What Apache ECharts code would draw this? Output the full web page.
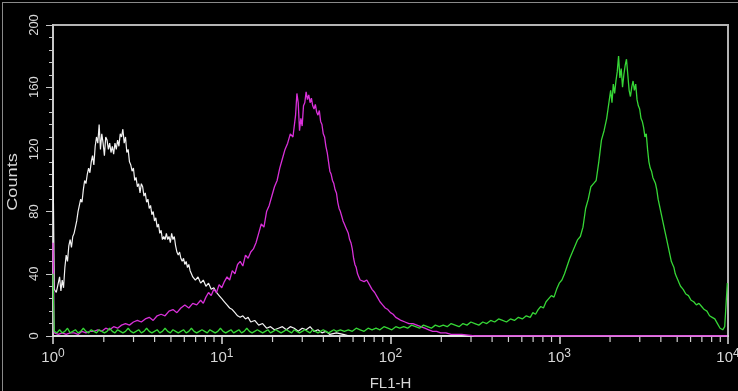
<!DOCTYPE html>
<html><head><meta charset="utf-8">
<script src="https://cdn.jsdelivr.net/npm/echarts@6/dist/echarts.min.js"></script>
<style>html,body{margin:0;padding:0;background:#000;}#c{width:738px;height:391px;}</style>
</head><body><div id="c"></div>
<script>
// Channels (0..1024 over 4 log decades) and counts
const whiteChannels = [0,2,5,8,10,12,14,16,18,20,22,24,26,28,30,32,34,36,38,40,42,44,46,48,50,52,54,56,58,60,62,64,66,68,70,72,74,76,78,80,82,84,86,88,90,92,94,96,98,100,102,104,106,108,110,112,114,116,118,120,122,124,126,128,130,132,134,136,138,140,142,144,146,148,150,152,154,156,158,160,162,164,166,168,170,172,174,176,178,180,182,184,186,188,190,192,194,196,198,200,202,204,206,208,210,212,214,216,220,224,228,232,236,240,244,248,252,256,260,264,268,272,276,280,284,288,292,296,300,306,312,318,324,330,336,342,348,354,360,366,372,378,384,390,396,402,408,414,420,430,440,450,470,1023];
const whiteCounts   = [113,30,28,34,38,29,36,31,44,52,48,58,62,57,64,66,70,74,80,84,88,86,94,100,98,104,108,105,112,116,110,122,128,124,136,120,130,124,116,128,126,120,124,118,122,117,124,120,126,122,130,128,133,124,128,118,120,112,110,106,108,100,102,96,98,92,98,96,90,92,86,88,82,84,78,80,74,76,70,72,66,68,62,64,62,66,62,64,60,66,62,64,58,54,52,54,50,48,50,46,48,44,46,42,40,38,38,36,38,34,36,32,34,30,31,28,26,24,22,20,18,17,15,13,12,13,11,12,9,10,7,8,5,6,4,5,6,4,6,5,3,5,4,6,3,4,2,3,1,2,1,0,0,0];

const magentaChannels = [0,2,8,14,20,26,32,38,44,50,56,62,68,74,80,86,92,98,104,110,116,122,128,134,140,146,152,158,164,170,176,182,188,194,200,206,212,218,224,228,232,236,240,244,248,252,256,260,264,268,272,276,280,284,288,292,296,300,304,308,312,316,320,324,328,332,336,340,344,348,352,356,360,364,368,370,372,374,376,378,380,382,384,386,388,390,392,394,396,398,400,402,404,406,408,410,412,414,416,418,420,422,424,426,428,430,432,434,436,438,440,442,444,446,448,450,452,454,456,458,460,462,464,466,468,472,476,480,484,488,492,496,500,504,508,512,516,520,524,528,534,540,546,552,558,564,570,576,582,588,596,604,620,640,1023];
const magentaCounts   = [60,2,1,2,1,2,2,1,3,2,3,3,4,3,5,4,6,5,7,8,7,9,10,9,11,12,10,13,14,13,16,17,15,18,20,18,21,20,23,21,25,28,26,30,28,33,31,35,38,36,42,40,46,48,45,52,50,54,56,60,66,72,70,80,84,90,96,100,108,114,120,124,130,128,142,156,150,132,140,135,148,150,157,152,155,150,153,148,146,149,144,142,145,138,136,130,128,122,118,112,106,104,100,98,94,92,86,82,80,77,74,72,70,68,66,62,60,56,50,46,44,40,38,36,37,35,36,33,30,28,25,22,20,18,17,15,14,12,11,10,9,8,8,7,6,5,4,3,3,2,2,1,1,0,0];

const greenChannels = [0,2,6,10,14,18,22,26,30,34,38,42,46,50,54,58,62,66,70,74,78,82,86,90,94,98,102,106,110,114,118,122,126,130,134,138,142,146,150,154,158,162,166,170,174,178,182,186,190,194,198,202,206,210,214,218,222,226,230,234,238,242,246,250,254,258,262,266,270,274,278,282,286,290,294,298,302,306,310,314,318,322,326,330,334,338,342,346,350,354,358,362,366,370,374,378,382,386,390,394,398,402,406,410,414,418,422,426,430,436,442,448,454,460,466,472,478,484,490,496,502,508,514,520,526,532,538,544,550,556,562,568,574,580,586,592,598,604,610,616,622,628,634,640,646,652,658,664,670,676,682,688,694,700,706,712,718,724,728,732,736,740,744,748,752,756,760,764,768,772,776,780,784,788,792,796,800,804,808,812,816,820,824,828,832,836,840,842,844,846,848,850,852,854,856,858,860,862,864,866,868,870,872,874,876,878,880,882,884,886,888,890,892,894,896,898,900,902,904,906,908,910,912,914,916,918,920,922,924,926,928,930,932,934,936,938,940,942,944,946,948,950,952,956,960,964,968,972,976,980,984,988,992,996,1000,1004,1008,1012,1016,1019,1021,1023];
const greenCounts   = [40,3,2,4,2,3,5,2,3,4,2,3,5,3,2,4,3,2,4,3,2,3,5,3,2,4,3,2,3,5,3,2,3,4,2,3,5,3,2,3,4,2,3,5,3,2,4,3,2,3,4,2,3,5,3,2,3,4,3,2,4,3,2,3,5,3,2,3,4,2,3,4,2,3,5,3,2,3,4,3,2,3,4,2,3,4,3,2,3,4,3,2,4,3,2,3,4,3,2,4,3,2,3,4,3,2,3,4,3,4,3,4,3,5,4,3,5,4,5,4,6,5,4,6,5,6,5,7,6,5,7,6,5,7,6,7,6,8,7,6,8,7,9,8,7,9,8,10,9,11,10,9,11,10,12,11,13,12,15,14,17,19,18,22,24,26,25,30,34,36,40,45,50,54,58,62,64,70,82,88,96,98,100,112,126,132,140,146,152,158,150,162,156,164,170,180,166,172,160,168,174,178,168,158,154,160,164,158,162,152,148,146,140,138,134,128,130,120,112,108,106,102,100,98,94,88,84,80,76,72,68,64,60,56,52,48,46,44,40,38,36,34,32,30,27,26,23,22,20,21,19,17,16,13,12,11,8,5,4,6,5,34];

const yTicks = [0, 40, 80, 120, 160, 200];
const xDecades = [0, 1, 2, 3, 4];
const xMinorTicks = [2,3,4,5,6,7,8,9,20,30,40,50,60,70,80,90,200,300,400,500,600,700,800,900,2000,3000,4000,5000,6000,7000,8000,9000];

function toPairs(ch, counts) { return ch.map((c, i) => [Math.pow(10, c / 256), counts[i]]); }

const FONT = 'Liberation Sans, Arial, sans-serif';
const chart = echarts.init(document.getElementById('c'), null, { renderer: 'canvas' });
chart.setOption({
  backgroundColor: '#000',
  animation: false,
  grid: { left: 53, right: 10, top: 25, bottom: 55, outerBoundsMode: 'none', containLabel: false, show: true, borderColor: '#b4b4b4', borderWidth: 2, backgroundColor: '#000' },
  graphic: [
    { type: 'line', shape: { x1: 2, y1: 2.5, x2: 738, y2: 2.5 }, style: { stroke: '#8a8a8a', lineWidth: 1 } },
    { type: 'line', shape: { x1: 2.5, y1: 2, x2: 2.5, y2: 391 }, style: { stroke: '#8a8a8a', lineWidth: 1 } },
    { type: 'text', x: 13, y: 182, rotation: Math.PI / 2, scaleX: 1.3,
      style: { text: 'Counts', fill: '#d8d8d8', font: '14px Liberation Sans, Arial, sans-serif', align: 'center', verticalAlign: 'middle' } }
  ],
  xAxis: {
    type: 'log', logBase: 10, min: Math.pow(10, xDecades[0]), max: Math.pow(10, xDecades[xDecades.length - 1]),
    position: 'bottom',
    axisLine: { show: true, lineStyle: { color: '#dcdcdc', width: 2 } },
    axisTick: { show: true, length: 8, lineStyle: { color: '#dcdcdc', width: 1.5 } },
    splitLine: { show: false },
    minorTick: { show: false },
    axisLabel: {
      margin: 12,
      formatter: v => '{b|10}{e|' + Math.round(Math.log10(v)) + '}',
      rich: {
        b: { fontSize: 15, color: '#d8d8d8', fontFamily: FONT, lineHeight: 20 },
        e: { fontSize: 12, color: '#d8d8d8', fontFamily: FONT, verticalAlign: 'top', lineHeight: 12 }
      }
    },
    name: 'FL1-H', nameLocation: 'middle', nameGap: 40,
    nameTextStyle: { color: '#d8d8d8', fontSize: 15, fontFamily: FONT }
  },
  yAxis: {
    type: 'value', min: yTicks[0], max: yTicks[yTicks.length - 1], interval: yTicks[1] - yTicks[0],
    axisLine: { show: true, lineStyle: { color: '#c8c8c8', width: 2 } },
    axisTick: { show: true, length: 7, lineStyle: { color: '#c8c8c8', width: 1 } },
    minorTick: { show: true, splitNumber: 5, length: 4, lineStyle: { color: '#c8c8c8', width: 1 } },
    splitLine: { show: false },
    axisLabel: { rotate: 90, margin: 12, color: '#d8d8d8', fontSize: 13, fontFamily: FONT }
  },
  series: [
    { type: 'custom', data: xMinorTicks.map(v => [v, 0]), clip: false, silent: true, z: 1,
      renderItem: (params, api) => {
        const p = api.coord([api.value(0), 0]);
        return { type: 'line', shape: { x1: p[0], y1: p[1] + 1, x2: p[0], y2: p[1] + 6 }, style: { stroke: '#d0d0d0', lineWidth: 1.2 } };
      } },
    { type: 'line', data: toPairs(whiteChannels, whiteCounts), symbol: 'none', lineStyle: { color: '#f2f2f2', width: 1.2 } },
    { type: 'line', data: toPairs(magentaChannels, magentaCounts), symbol: 'none', lineStyle: { color: '#d830d8', width: 1.3 } },
    { type: 'line', data: toPairs(greenChannels, greenCounts), symbol: 'none', lineStyle: { color: '#36d636', width: 1.3 } }
  ]
});
</script>
</body></html>
